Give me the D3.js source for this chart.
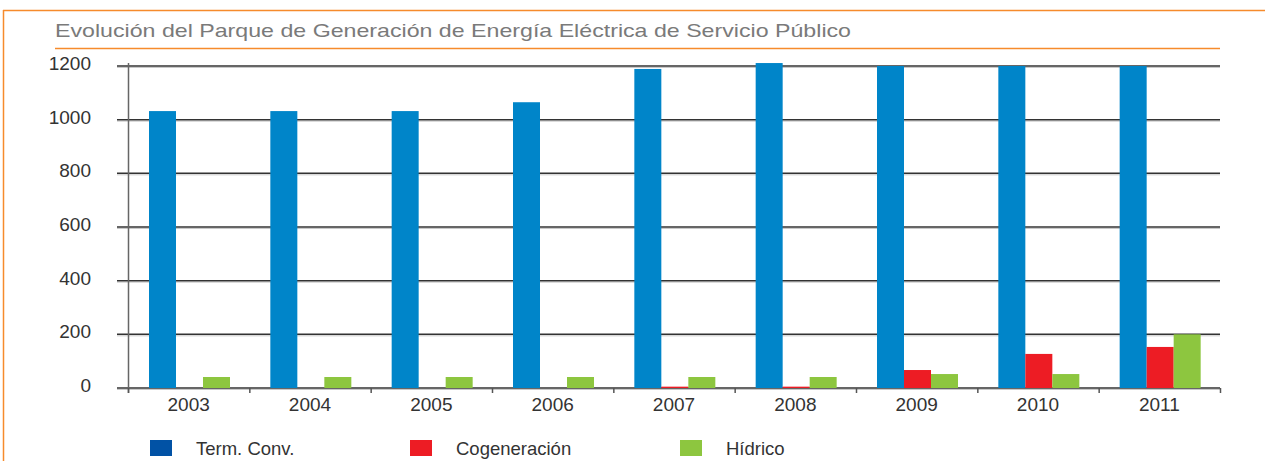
<!DOCTYPE html>
<html><head><meta charset="utf-8">
<script src="https://cdn.jsdelivr.net/npm/d3@7"></script>
<style>html,body{margin:0;padding:0;background:#fff;}svg{display:block;}</style>
</head><body>
<svg id="c" width="1265" height="461"></svg>
<script>
const title = "Evolución del Parque de Generación de Energía Eléctrica de Servicio Público";
const years = ["2003","2004","2005","2006","2007","2008","2009","2010","2011"];
const seriesNames = ["Term. Conv.","Cogeneración","Hídrico"];
const termConv = [1032,1032,1032,1065,1189,1211,1200,1200,1200];
const cogeneracion = [0,0,0,0,5,5,67,127,153];
const hidrico = [41,41,41,41,41,41,52,52,200];
const yTicks = [0,200,400,600,800,1000,1200];
const barColors = ["#0085c9","#ed1c24","#8dc63f"];
const legendColors = ["#0152a5","#ed1c24","#8dc63f"];

const svg = d3.select("#c");
const orange = "#f68b2c";
const font = "Liberation Sans, Arial, sans-serif";
// frame
svg.append("line").attr("x1",3).attr("x2",1265).attr("y1",10.5).attr("y2",10.5).attr("stroke",orange).attr("stroke-width",1.5);
svg.append("line").attr("x1",3.5).attr("x2",3.5).attr("y1",10).attr("y2",461).attr("stroke",orange).attr("stroke-width",1.5);
svg.append("text").attr("x",55).attr("y",37).text(title)
  .attr("font-family",font).attr("font-size",19).attr("fill","#7a7a7a")
  .attr("textLength",796).attr("lengthAdjust","spacingAndGlyphs");
svg.append("line").attr("x1",55).attr("x2",1220).attr("y1",48.5).attr("y2",48.5).attr("stroke",orange).attr("stroke-width",1.5);

const x0 = d3.scaleBand().domain(years).range([128,1220]).paddingInner(0).paddingOuter(0);
const y = d3.scaleLinear().domain([0,1200]).range([388,66]);
const x1 = d3.scaleBand().domain([0,1,2]).range([21,102]);

// gridlines
const g = svg.append("g");
yTicks.forEach(t=>{
  g.append("line").attr("x1",117).attr("x2",1220).attr("y1",y(t)+1.5).attr("y2",y(t)+1.5).attr("stroke","#c8c8c8").attr("stroke-width",1);
  g.append("line").attr("x1",117).attr("x2",1220).attr("y1",y(t)).attr("y2",y(t)).attr("stroke","#333").attr("stroke-width",1.5);
});
// y axis line
svg.append("line").attr("x1",128.5).attr("x2",128.5).attr("y1",y(1200)-3).attr("y2",y(0)+5).attr("stroke","#666").attr("stroke-width",1.5);
// y labels
const yAxis = d3.axisLeft(y).tickValues(yTicks).tickFormat(d3.format("d")).tickSize(0).tickPadding(0);
const ya = svg.append("g").attr("transform","translate(91,-3)").call(yAxis);
ya.select(".domain").remove();
ya.selectAll("text").attr("font-family",font).attr("font-size",19).attr("fill","#333").attr("dy","0.35em");

// bars
const data = years.map((yr,i)=>({yr, vals:[termConv[i],cogeneracion[i],hidrico[i]]}));
const grp = svg.append("g").selectAll("g").data(data).join("g").attr("transform",d=>`translate(${x0(d.yr)},0)`);
grp.selectAll("rect").data(d=>d.vals.map((v,k)=>({v,k}))).join("rect")
  .attr("x",d=>x1(d.k)).attr("width",x1.bandwidth())
  .attr("y",d=>y(d.v)).attr("height",d=>y(0)-y(d.v)).attr("fill",d=>barColors[d.k]);

// x axis
const xAxis = d3.axisBottom(x0).tickSize(0).tickPadding(0);
const xa = svg.append("g").attr("transform",`translate(0,${y(0)})`).call(xAxis);
xa.select(".domain").remove();
xa.selectAll("text").attr("font-family",font).attr("font-size",19).attr("fill","#333").attr("y",0).attr("dy",23);
const bounds = years.map(yr=>x0(yr)).concat([x0.range()[1]]);
svg.append("g").selectAll("line").data(bounds).join("line")
  .attr("x1",d=>d+0.5).attr("x2",d=>d+0.5).attr("y1",y(0)).attr("y2",y(0)+5).attr("stroke","#555").attr("stroke-width",1.5);

// legend
const legX = [150,410,680];
const leg = svg.append("g").selectAll("g").data(seriesNames).join("g").attr("transform",(d,i)=>`translate(${legX[i]},0)`);
leg.append("rect").attr("x",0).attr("y",440).attr("width",22).attr("height",16).attr("fill",(d,i)=>legendColors[i]);
leg.append("text").attr("x",46).attr("y",455).text(d=>d)
  .attr("font-family",font).attr("font-size",18.5).attr("fill","#333");
</script>
</body></html>
